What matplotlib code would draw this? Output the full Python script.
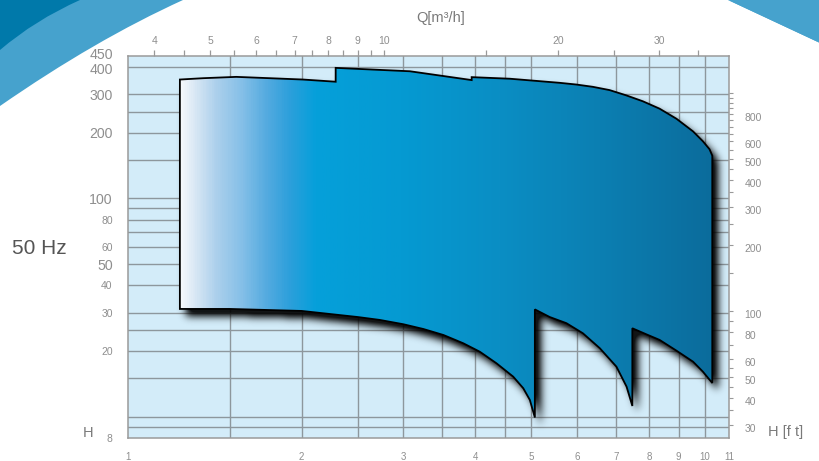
import numpy as np
import matplotlib
matplotlib.use('Agg')
import matplotlib.pyplot as plt
from matplotlib.path import Path
from matplotlib.patches import Polygon, PathPatch
from matplotlib.colors import LinearSegmentedColormap
from matplotlib.ticker import FixedLocator, FixedFormatter, NullFormatter
from matplotlib.transforms import ScaledTranslation

plt.rcParams['font.family'] = ['Liberation Sans', 'DejaVu Sans']

# pump range outline, Q in l/s, H in m
top1_q = [1.23, 1.35, 1.54, 1.76, 2.01, 2.29]
top1_h = [351, 356, 361, 356, 351, 343]
top2_q = [2.29, 3.08, 3.94]
top2_h = [397, 383, 349]
top3_q = [3.94, 4.59, 5.60, 5.98, 6.39, 6.83, 7.30, 7.80, 8.34, 8.92, 9.53, 9.91,
          10.18, 10.29]
top3_h = [360, 354, 339, 333, 325, 314, 297, 279, 258, 232, 203, 183, 168, 157]
bot3_q = [10.29, 9.91, 9.53, 8.92, 8.34, 7.96, 7.48]
bot3_h = [14.25, 16.07, 17.85, 20.05, 22.46, 23.66, 25.4]
bot2_q = [7.48, 7.31, 7.02, 6.57, 6.14, 5.75, 5.38, 5.07]
bot2_h = [11.18, 13.71, 16.93, 20.57, 24.1, 26.8, 28.6, 31.0]
bot1_q = [5.07, 4.97, 4.84, 4.65, 4.35, 4.07, 3.81, 3.52, 3.25, 3.00, 2.73, 2.50,
          2.00, 1.50, 1.23]
bot1_h = [9.9, 11.91, 13.49, 15.24, 17.55, 19.83, 21.68, 23.66, 25.2, 26.5, 27.74,
          28.6, 30.5, 31.15, 31.15]

# axes
grid_q = [1.5, 2, 2.5, 3, 3.5, 4, 4.5, 5, 6, 7, 8, 9, 10]
grid_h = [9, 10, 15, 20, 25, 30, 40, 50, 60, 70, 80, 90, 100, 150, 200, 250, 300, 400]
bottom_ticks = [1, 2, 3, 4, 5, 6, 7, 8, 9, 10, 11]
left_ticks = [8, 20, 30, 40, 50, 60, 80, 100, 200, 300, 400, 450]
left_big = [50, 100, 200, 300, 400, 450]
top_major = [4, 5, 6, 7, 8, 9, 10, 20, 30]
top_minor = [4.5, 5.5, 6.5, 7.5, 8.5, 9.5, 15, 25, 35]
right_major = [30, 40, 50, 60, 80, 100, 200, 300, 400, 500, 600, 800]
right_minor = [35, 45, 55, 70, 90, 150, 250, 350, 450, 550, 650, 700, 750,
               850, 900, 950, 1000]

grey = '#8e8e8e'
gridc = '#8d979d'

W, H = 820, 461
fig = plt.figure(figsize=(W / 100, H / 100), dpi=100)

def px(x, y):
    return x / W, 1 - y / H

def shift(t, dy_px):
    t.set_transform(t.get_transform() + ScaledTranslation(0, -dy_px / 100, fig.dpi_scale_trans))

# decoration swooshes (figure pixels)
def swoosh(pts, codes, color):
    verts = [(x / 100, (H - y) / 100) for x, y in pts]
    fig.add_artist(PathPatch(Path(verts, codes), facecolor=color, edgecolor='none',
                             transform=fig.dpi_scale_trans, zorder=0))

C = [Path.MOVETO, Path.LINETO, Path.CURVE3, Path.CURVE3, Path.CLOSEPOLY]
swoosh([(0, 0), (183, 0), (95, 40), (0, 106), (0, 0)], C, '#46a2cd')
swoosh([(0, 0), (80, 0), (35, 20), (0, 50), (0, 0)], C, '#0079aa')
swoosh([(728, 0), (820, 0), (820, 43), (820, 43), (0, 0)],
       [Path.MOVETO, Path.LINETO, Path.LINETO, Path.LINETO, Path.CLOSEPOLY], '#46a2cd')
swoosh([(728, 0), (820, 43), (778, 14), (728, 0), (0, 0)],
       [Path.MOVETO, Path.LINETO, Path.CURVE3, Path.CURVE3, Path.CLOSEPOLY], '#46a2cd')

x0, y1 = px(128, 56)
x1, y0 = px(729, 437.7)
ax = fig.add_axes([x0, y0, x1 - x0, y1 - y0])
ax.set_xscale('log')
ax.set_yscale('log')
ax.set_xlim(1, 11)
ax.set_ylim(8, 450)
ax.set_facecolor('#d3ecf9')
for s in ax.spines.values():
    s.set_color('#9a9a9a')
    s.set_linewidth(1.1)

for q in grid_q:
    ax.axvline(q, color=gridc, lw=1.0, zorder=1)
for h in grid_h:
    ax.axhline(h, color=gridc, lw=1.0, zorder=1)

ax.xaxis.set_major_locator(FixedLocator(bottom_ticks))
ax.xaxis.set_major_formatter(FixedFormatter([str(v) for v in bottom_ticks]))
ax.xaxis.set_minor_locator(FixedLocator([]))
ax.yaxis.set_major_locator(FixedLocator(left_ticks))
ax.yaxis.set_major_formatter(FixedFormatter([str(v) for v in left_ticks]))
ax.yaxis.set_minor_locator(FixedLocator([]))
ax.tick_params(axis='x', length=0, pad=10, labelsize=7, labelcolor=grey)
ax.tick_params(axis='y', length=0, pad=11, labelsize=7.5, labelcolor=grey)
for t, v in zip(ax.get_yticklabels(), left_ticks):
    if v in left_big:
        t.set_fontsize(10.2)
    if v == 450:
        shift(t, -2.5)
    if v == 400:
        shift(t, 1.5)

# top axis in m3/h
sx = ax.secondary_xaxis('top', functions=(lambda q: q * 3.6, lambda m: m / 3.6))
sx.set_xticks(top_major, [str(v) for v in top_major])
sx.set_xticks(top_minor, minor=True)
sx.xaxis.set_minor_formatter(NullFormatter())
sx.tick_params(which='both', direction='out', length=4.5, width=0.9, color='#999999',
               labelsize=7.5, labelcolor=grey, pad=3)
sx.spines['top'].set_visible(False)

# right axis in feet
sy = ax.secondary_yaxis('right', functions=(lambda h: h * 3.281, lambda f: f / 3.281))
sy.set_yticks(right_major, [str(v) for v in right_major])
sy.set_yticks(right_minor, minor=True)
sy.yaxis.set_minor_formatter(NullFormatter())
sy.tick_params(which='both', direction='out', length=3, width=0.8, color='#999999',
               labelsize=7.5, labelcolor=grey, pad=8)
sy.spines['right'].set_visible(False)
for t in sy.get_yticklabels():
    shift(t, 3)

# outline
q = np.array(top1_q + top2_q + top3_q + bot3_q + bot2_q + bot1_q)
h = np.array(top1_h + top2_h + top3_h + bot3_h + bot2_h + bot1_h)
verts = np.column_stack([q, h])

# blurred drop shadow, computed in axes pixels
aw, ah = 601, 382
va = ax.transAxes.inverted().transform(ax.transData.transform(verts))
gx, gy = np.meshgrid((np.arange(aw) + 0.5) / aw, (np.arange(ah) + 0.5) / ah)
inside = Path(va).contains_points(np.column_stack([gx.ravel(), gy.ravel()]))
inside = inside.reshape(ah, aw).astype(float)
dx, dy = 6, 7
sh = np.zeros_like(inside)
sh[:ah - dy, dx:] = inside[dy:, :aw - dx]
k = np.exp(-0.5 * (np.arange(-12, 13) / 4.0) ** 2)
k /= k.sum()
sh = np.apply_along_axis(lambda r: np.convolve(r, k, mode='same'), 1, sh)
sh = np.apply_along_axis(lambda c: np.convolve(c, k, mode='same'), 0, sh)
rgba = np.zeros((ah, aw, 4))
rgba[..., 3] = np.clip(sh * 1.1, 0, 0.92)
ax.imshow(rgba, origin='lower', extent=[0, 1, 0, 1], transform=ax.transAxes,
          aspect='auto', zorder=2, interpolation='bilinear')

# gradient fill clipped to the outline
stops = [(0.0, '#f5f8fc'), (0.028, '#d6e6f4'), (0.066, '#acd0ec'), (0.113, '#86c0e8'),
         (0.16, '#55abe0'), (0.207, '#2a9fdb'), (0.254, '#05a0da'), (0.414, '#059ad2'),
         (0.6, '#0a8ec4'), (0.79, '#0c7fb2'), (1.0, '#0b6c9c')]
cmap = LinearSegmentedColormap.from_list('pump', stops)
poly = Polygon(verts, closed=True, facecolor='none', edgecolor='black', lw=1.3,
               zorder=4, joinstyle='miter')
ax.add_patch(poly)
fx0 = np.log10(min(q)) / np.log10(11)
fx1 = np.log10(max(q)) / np.log10(11)
im = ax.imshow(np.linspace(0, 1, 600)[None, :], cmap=cmap, extent=[fx0, fx1, 0, 1],
               transform=ax.transAxes, aspect='auto', zorder=3)
im.set_clip_path(poly)
ax.set_xlim(1, 11)
ax.set_ylim(8, 450)

fig.text(*px(441, 18), 'Q[m³/h]', fontsize=10.5, color='#7a7a7a', ha='center', va='center')
fig.text(*px(39, 249), '50 Hz', fontsize=15, color='#555555', ha='center', va='center')
fig.text(*px(88, 433), 'H', fontsize=10.5, color='#7a7a7a', ha='center', va='center')
fig.text(*px(786, 432), 'H [f t]', fontsize=10.5, color='#7a7a7a', ha='center', va='center')

fig.savefig('out.png', dpi=100)
